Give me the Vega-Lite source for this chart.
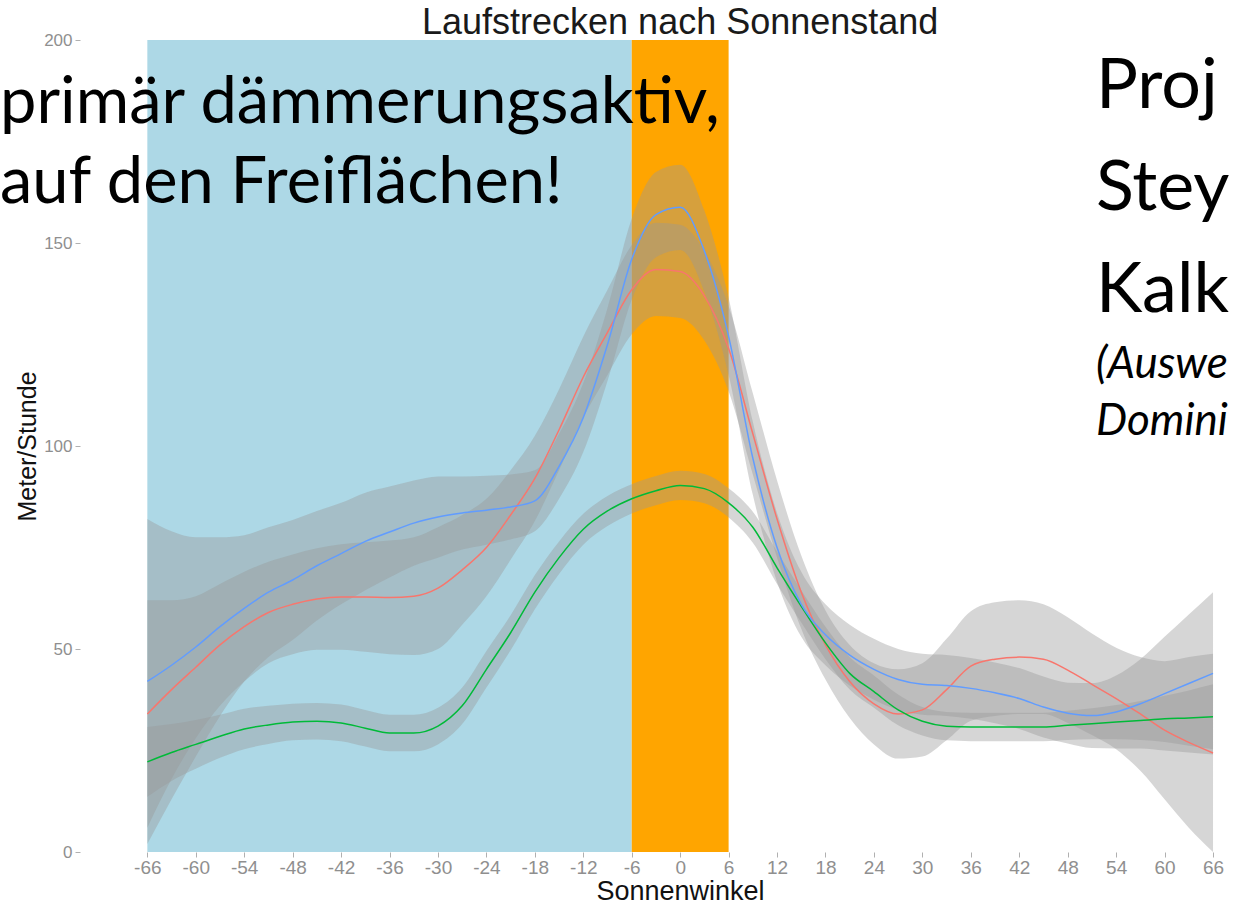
{
  "$schema": "https://vega.github.io/schema/vega-lite/v6.json",
  "width": 1154,
  "height": 812,
  "autosize": {"type": "none"},
  "padding": {"left": 80, "top": 40, "right": 0, "bottom": 53},
  "background": "#ffffff",
  "config": {"view": {"stroke": null}, "font": "Liberation Sans"},
  "resolve": {"scale": {"color": "independent"}},
  "datasets": {
    "phasen": [
      {"von": -66, "bis": -6, "phase": "Nacht"},
      {"von": -6, "bis": 6, "phase": "Dämmerung"}
    ],
    "kurven": [
      {"s":"1","x":-66,"y":34,"lo":6,"hi":62},
      {"s":"1","x":-63,"y":40,"lo":18,"hi":62},
      {"s":"1","x":-60,"y":45.5,"lo":28,"hi":63},
      {"s":"1","x":-57,"y":51,"lo":36,"hi":66},
      {"s":"1","x":-54,"y":55.5,"lo":42,"hi":69},
      {"s":"1","x":-51,"y":59,"lo":46.5,"hi":71.5},
      {"s":"1","x":-48,"y":61,"lo":48.7,"hi":73.3},
      {"s":"1","x":-45,"y":62.3,"lo":49.8,"hi":74.8},
      {"s":"1","x":-42,"y":62.8,"lo":49.8,"hi":75.8},
      {"s":"1","x":-39,"y":62.8,"lo":49.3,"hi":76.3},
      {"s":"1","x":-36,"y":62.7,"lo":48.7,"hi":76.7},
      {"s":"1","x":-33,"y":63,"lo":48.5,"hi":77.5},
      {"s":"1","x":-30,"y":65,"lo":50,"hi":80},
      {"s":"1","x":-27,"y":69.5,"lo":56,"hi":83},
      {"s":"1","x":-24,"y":75,"lo":63,"hi":87},
      {"s":"1","x":-21,"y":83,"lo":72,"hi":94},
      {"s":"1","x":-18,"y":92,"lo":81.5,"hi":102.5},
      {"s":"1","x":-15,"y":104,"lo":94,"hi":114},
      {"s":"1","x":-12,"y":117,"lo":107,"hi":127},
      {"s":"1","x":-9,"y":128,"lo":117.5,"hi":138.5},
      {"s":"1","x":-6,"y":138.5,"lo":127.5,"hi":149.5},
      {"s":"1","x":-3,"y":143.5,"lo":132,"hi":155},
      {"s":"1","x":0,"y":143,"lo":131.5,"hi":154.5},
      {"s":"1","x":3,"y":137,"lo":126,"hi":148},
      {"s":"1","x":6,"y":124,"lo":113.5,"hi":134.5},
      {"s":"1","x":9,"y":103,"lo":93,"hi":113},
      {"s":"1","x":12,"y":82,"lo":72.5,"hi":91.5},
      {"s":"1","x":15,"y":64,"lo":55,"hi":73},
      {"s":"1","x":18,"y":51,"lo":42.5,"hi":59.5},
      {"s":"1","x":21,"y":42,"lo":33,"hi":51},
      {"s":"1","x":24,"y":36.5,"lo":26.5,"hi":46.5},
      {"s":"1","x":27,"y":34,"lo":23,"hi":45},
      {"s":"1","x":30,"y":35,"lo":23.5,"hi":46.5},
      {"s":"1","x":33,"y":40,"lo":27.5,"hi":52.5},
      {"s":"1","x":36,"y":45.8,"lo":32.3,"hi":59.3},
      {"s":"1","x":39,"y":47.5,"lo":33.5,"hi":61.5},
      {"s":"1","x":42,"y":48,"lo":34,"hi":62},
      {"s":"1","x":45,"y":47.5,"lo":34,"hi":61},
      {"s":"1","x":48,"y":44.8,"lo":31.8,"hi":57.8},
      {"s":"1","x":51,"y":41.3,"lo":28.8,"hi":53.8},
      {"s":"1","x":54,"y":37.8,"lo":25.3,"hi":50.3},
      {"s":"1","x":57,"y":34,"lo":20,"hi":48},
      {"s":"1","x":60,"y":30,"lo":13,"hi":47},
      {"s":"1","x":63,"y":27,"lo":6,"hi":48},
      {"s":"1","x":66,"y":24.4,"lo":0,"hi":48.8},
      {"s":"2","x":-66,"y":22.2,"lo":13.6,"hi":30.8},
      {"s":"2","x":-63,"y":24.5,"lo":17.5,"hi":31.5},
      {"s":"2","x":-60,"y":26.5,"lo":20.5,"hi":32.5},
      {"s":"2","x":-57,"y":28.5,"lo":23.2,"hi":33.8},
      {"s":"2","x":-54,"y":30.3,"lo":25.3,"hi":35.3},
      {"s":"2","x":-51,"y":31.3,"lo":26.6,"hi":36},
      {"s":"2","x":-48,"y":32,"lo":27.5,"hi":36.5},
      {"s":"2","x":-45,"y":32.2,"lo":27.7,"hi":36.7},
      {"s":"2","x":-42,"y":31.8,"lo":27.3,"hi":36.3},
      {"s":"2","x":-39,"y":30.5,"lo":26,"hi":35},
      {"s":"2","x":-36,"y":29.3,"lo":24.8,"hi":33.8},
      {"s":"2","x":-33,"y":29.3,"lo":24.8,"hi":33.8},
      {"s":"2","x":-30,"y":31,"lo":26.5,"hi":35.5},
      {"s":"2","x":-27,"y":36,"lo":31.5,"hi":40.5},
      {"s":"2","x":-24,"y":45,"lo":40.5,"hi":49.5},
      {"s":"2","x":-21,"y":54,"lo":49.7,"hi":58.3},
      {"s":"2","x":-18,"y":64,"lo":59.8,"hi":68.2},
      {"s":"2","x":-15,"y":72.5,"lo":68.5,"hi":76.5},
      {"s":"2","x":-12,"y":79.5,"lo":75.7,"hi":83.3},
      {"s":"2","x":-9,"y":84,"lo":80.3,"hi":87.7},
      {"s":"2","x":-6,"y":87,"lo":83.4,"hi":90.6},
      {"s":"2","x":-3,"y":89,"lo":85.4,"hi":92.6},
      {"s":"2","x":0,"y":90.3,"lo":86.7,"hi":93.9},
      {"s":"2","x":3,"y":89.5,"lo":85.9,"hi":93.1},
      {"s":"2","x":6,"y":86,"lo":82.4,"hi":89.6},
      {"s":"2","x":9,"y":80,"lo":76.2,"hi":83.8},
      {"s":"2","x":12,"y":70,"lo":66,"hi":74},
      {"s":"2","x":15,"y":60.5,"lo":56.5,"hi":64.5},
      {"s":"2","x":18,"y":51.5,"lo":47.5,"hi":55.5},
      {"s":"2","x":21,"y":44,"lo":40,"hi":48},
      {"s":"2","x":24,"y":39.5,"lo":35.5,"hi":43.5},
      {"s":"2","x":27,"y":35,"lo":31.2,"hi":38.8},
      {"s":"2","x":30,"y":32.2,"lo":28.7,"hi":35.7},
      {"s":"2","x":33,"y":31,"lo":27.5,"hi":34.5},
      {"s":"2","x":36,"y":30.8,"lo":27.3,"hi":34.3},
      {"s":"2","x":39,"y":30.8,"lo":27.3,"hi":34.3},
      {"s":"2","x":42,"y":30.8,"lo":27.3,"hi":34.3},
      {"s":"2","x":45,"y":30.8,"lo":27.3,"hi":34.3},
      {"s":"2","x":48,"y":31.2,"lo":27.6,"hi":34.8},
      {"s":"2","x":51,"y":31.6,"lo":27.8,"hi":35.4},
      {"s":"2","x":54,"y":32,"lo":27.8,"hi":36.2},
      {"s":"2","x":57,"y":32.4,"lo":27.6,"hi":37.2},
      {"s":"2","x":60,"y":32.8,"lo":27.1,"hi":38.5},
      {"s":"2","x":63,"y":33,"lo":26.2,"hi":39.8},
      {"s":"2","x":66,"y":33.3,"lo":25.3,"hi":41.3},
      {"s":"3","x":-66,"y":42,"lo":2,"hi":82},
      {"s":"3","x":-63,"y":46,"lo":13,"hi":79},
      {"s":"3","x":-60,"y":50.5,"lo":23.5,"hi":77.5},
      {"s":"3","x":-57,"y":55.5,"lo":33.5,"hi":77.5},
      {"s":"3","x":-54,"y":60,"lo":42,"hi":78},
      {"s":"3","x":-51,"y":64,"lo":48,"hi":80},
      {"s":"3","x":-48,"y":67,"lo":52.2,"hi":81.8},
      {"s":"3","x":-45,"y":70.5,"lo":57,"hi":84},
      {"s":"3","x":-42,"y":73.5,"lo":61,"hi":86},
      {"s":"3","x":-39,"y":76.5,"lo":64.5,"hi":88.5},
      {"s":"3","x":-36,"y":78.8,"lo":67.6,"hi":90},
      {"s":"3","x":-33,"y":81,"lo":70.5,"hi":91.5},
      {"s":"3","x":-30,"y":82.5,"lo":72.5,"hi":92.5},
      {"s":"3","x":-27,"y":83.5,"lo":74.5,"hi":92.5},
      {"s":"3","x":-24,"y":84.2,"lo":75.7,"hi":92.7},
      {"s":"3","x":-21,"y":85,"lo":77,"hi":93},
      {"s":"3","x":-18,"y":86.5,"lo":79,"hi":94},
      {"s":"3","x":-15,"y":95,"lo":87,"hi":103},
      {"s":"3","x":-12,"y":107,"lo":98.5,"hi":115.5},
      {"s":"3","x":-9,"y":125,"lo":116,"hi":134},
      {"s":"3","x":-6,"y":146,"lo":136,"hi":156},
      {"s":"3","x":-3,"y":157,"lo":146.5,"hi":167.5},
      {"s":"3","x":0,"y":158.8,"lo":148.3,"hi":169.3},
      {"s":"3","x":3,"y":148,"lo":138,"hi":158},
      {"s":"3","x":6,"y":127,"lo":117.5,"hi":136.5},
      {"s":"3","x":9,"y":97,"lo":88,"hi":106},
      {"s":"3","x":12,"y":75,"lo":66.5,"hi":83.5},
      {"s":"3","x":15,"y":61,"lo":53,"hi":69},
      {"s":"3","x":18,"y":53.5,"lo":46,"hi":61},
      {"s":"3","x":21,"y":48.5,"lo":41,"hi":56},
      {"s":"3","x":24,"y":45,"lo":37.5,"hi":52.5},
      {"s":"3","x":27,"y":42.5,"lo":35,"hi":50},
      {"s":"3","x":30,"y":41.3,"lo":33.8,"hi":48.8},
      {"s":"3","x":33,"y":41,"lo":33.5,"hi":48.5},
      {"s":"3","x":36,"y":40.3,"lo":32.8,"hi":47.8},
      {"s":"3","x":39,"y":39.2,"lo":31.7,"hi":46.7},
      {"s":"3","x":42,"y":37.8,"lo":30.3,"hi":45.3},
      {"s":"3","x":45,"y":35.7,"lo":28.2,"hi":43.2},
      {"s":"3","x":48,"y":34.2,"lo":26.7,"hi":41.7},
      {"s":"3","x":51,"y":33.6,"lo":25.6,"hi":41.6},
      {"s":"3","x":54,"y":34.5,"lo":25.5,"hi":43.5},
      {"s":"3","x":57,"y":36.5,"lo":25.5,"hi":47.5},
      {"s":"3","x":60,"y":39,"lo":25,"hi":53},
      {"s":"3","x":63,"y":41.5,"lo":24.5,"hi":58.5},
      {"s":"3","x":66,"y":44,"lo":24,"hi":64}
    ]
  },
  "layer": [
    {
      "data": {"name": "phasen"},
      "mark": {"type": "rect"},
      "encoding": {
        "x": {"field": "von", "type": "quantitative", "title": "Sonnenwinkel", "scale": {"domain": [-74.34, 68.6], "nice": false, "zero": false},
          "axis": {"values": [-66,-60,-54,-48,-42,-36,-30,-24,-18,-12,-6,0,6,12,18,24,30,36,42,48,54,60,66],
            "labelExpr": "datum.value < 0 ? '-' + abs(datum.value) : '' + datum.value",
            "domain": false, "grid": false, "tickSize": 5, "tickColor": "#b0b0b0", "labelColor": "#8f8f8f",
            "labelFont": "Liberation Sans", "labelFontSize": 19, "labelPadding": 1, "labelFlush": false, "labelOverlap": false,
            "title": "Sonnenwinkel", "titleFont": "Liberation Sans", "titleFontSize": 27, "titleFontWeight": "normal",
            "titleColor": "#111111", "titleX": 600, "titleY": 47, "titleBaseline": "alphabetic"}},
        "x2": {"field": "bis"},
        "y": {"datum": 0, "type": "quantitative", "title": "Meter/Stunde", "scale": {"domain": [0, 200], "nice": false, "zero": false},
          "axis": {"values": [0, 50, 100, 150, 200], "domain": false, "grid": false, "tickSize": 5, "tickColor": "#b0b0b0",
            "labelColor": "#8f8f8f", "labelFont": "Liberation Sans", "labelFontSize": 17, "labelPadding": 3,
            "title": "Meter/Stunde", "titleFont": "Liberation Sans", "titleFontSize": 25, "titleFontWeight": "normal",
            "titleColor": "#111111", "titleX": -45, "titleY": 406, "titleBaseline": "alphabetic"}},
        "y2": {"datum": 200},
        "color": {"field": "phase", "type": "nominal", "scale": {"domain": ["Nacht", "Dämmerung"], "range": ["#ADD8E6", "#FFA500"]}, "legend": null}
      }
    },
    {
      "data": {"name": "kurven"},
      "mark": {"type": "area", "color": "#999999", "opacity": 0.4, "interpolate": "monotone"},
      "encoding": {
        "x": {"field": "x", "type": "quantitative", "title": "Sonnenwinkel"},
        "y": {"field": "lo", "type": "quantitative", "title": "Meter/Stunde"},
        "y2": {"field": "hi"},
        "detail": {"field": "s", "type": "nominal"}
      }
    },
    {
      "data": {"name": "kurven"},
      "mark": {"type": "line", "strokeWidth": 1.5, "interpolate": "monotone"},
      "encoding": {
        "x": {"field": "x", "type": "quantitative", "title": "Sonnenwinkel"},
        "y": {"field": "y", "type": "quantitative", "title": "Meter/Stunde"},
        "color": {"field": "s", "type": "nominal", "scale": {"domain": ["1", "2", "3"], "range": ["#F8766D", "#00BA38", "#619CFF"]}, "legend": null}
      }
    },
    {
      "data": {"values": [{}]},
      "mark": {"type": "text", "text": "Laufstrecken nach Sonnenstand", "font": "Liberation Sans", "fontSize": 36, "align": "center", "baseline": "alphabetic", "color": "#1a1a1a"},
      "encoding": {
        "x": {"datum": 0, "type": "quantitative", "title": "Sonnenwinkel"},
        "y": {"datum": 201.48, "type": "quantitative", "title": "Meter/Stunde"}
      }
    },
    {
      "data": {"values": [{}]},
      "mark": {"type": "text", "text": ["primär dämmerungsaktiv,", "auf den Freiflächen!"], "font": "Lato", "fontSize": 65, "lineHeight": 80, "align": "left", "baseline": "alphabetic", "color": "#000000"},
      "encoding": {
        "x": {"datum": -84.25, "type": "quantitative", "title": "Sonnenwinkel"},
        "y": {"datum": 179.56, "type": "quantitative", "title": "Meter/Stunde"}
      }
    },
    {
      "data": {"values": [{}]},
      "mark": {"type": "text", "text": ["Proj", "Stey", "Kalk"], "font": "Lato", "fontSize": 70, "lineHeight": 102, "align": "left", "baseline": "alphabetic", "color": "#000000"},
      "encoding": {
        "x": {"datum": 51.5, "type": "quantitative", "title": "Sonnenwinkel"},
        "y": {"datum": 183.25, "type": "quantitative", "title": "Meter/Stunde"}
      }
    },
    {
      "data": {"values": [{}]},
      "mark": {"type": "text", "text": ["(Auswe", "Domini"], "font": "Lato", "fontSize": 44, "fontStyle": "italic", "lineHeight": 57, "align": "left", "baseline": "alphabetic", "color": "#000000"},
      "encoding": {
        "x": {"datum": 51.5, "type": "quantitative", "title": "Sonnenwinkel"},
        "y": {"datum": 116.75, "type": "quantitative", "title": "Meter/Stunde"}
      }
    }
  ]
}
